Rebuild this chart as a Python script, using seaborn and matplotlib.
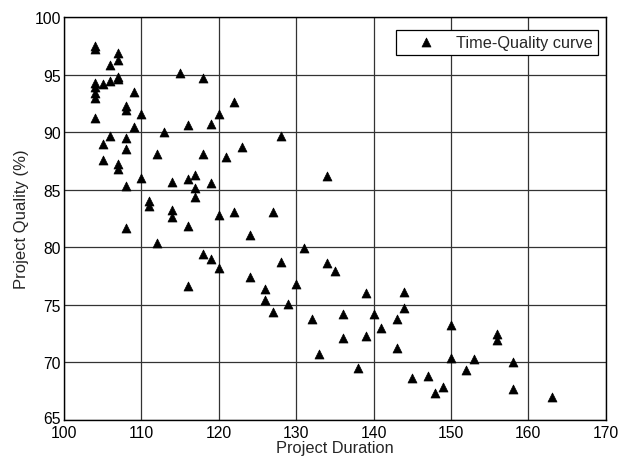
import matplotlib
matplotlib.use("Agg")
import matplotlib.pyplot as plt
import matplotlib.transforms as mtransforms
import seaborn as sns
import pandas as pd

# values
duration = [104, 104, 104, 104, 104, 104, 104,
            105, 105, 105, 106, 106, 106,
            107, 107, 107, 107, 107, 107,
            108, 108, 108, 108, 108, 108,
            109, 109, 110, 110, 111, 111, 112, 112, 113,
            114, 114, 114, 115, 116, 116, 116, 116,
            117, 117, 117, 118, 118, 118, 119, 119, 119,
            120, 120, 120, 121, 122, 122, 123, 124, 124,
            126, 126, 127, 127, 128, 128, 129, 130, 131,
            132, 133, 134, 134, 135, 136, 136, 138, 139, 139,
            140, 141, 143, 143, 144, 144, 145, 147, 148, 149,
            150, 150, 152, 153, 156, 156, 158, 158, 163]
quality = [97.5, 97.2, 94.3, 93.9, 93.4, 93.0, 91.2,
           94.2, 89.0, 87.6, 95.8, 94.4, 89.7,
           96.9, 96.3, 94.8, 94.6, 87.2, 86.8,
           92.3, 91.9, 89.5, 88.5, 85.3, 81.7,
           93.5, 90.4, 91.6, 86.0, 84.0, 83.6, 88.1, 80.4, 90.0,
           85.7, 83.2, 82.6, 95.1, 90.6, 85.9, 81.8, 76.6,
           86.3, 85.1, 84.4, 94.7, 88.1, 79.4, 90.7, 85.6, 79.0,
           91.6, 82.8, 78.2, 87.8, 92.6, 83.1, 88.7, 81.1, 77.4,
           76.4, 75.4, 83.1, 74.4, 89.7, 78.7, 75.1, 76.8, 79.95,
           73.8, 70.7, 86.2, 78.6, 77.9, 74.2, 72.1, 69.5, 76.0, 72.3,
           74.2, 73.0, 73.8, 71.25, 76.1, 74.7, 68.6, 68.8, 67.35, 67.9,
           73.25, 70.4, 69.3, 70.3, 72.5, 71.9, 70.0, 67.7, 67.0]

x_ticks = [100, 110, 120, 130, 140, 150, 160, 170]
y_ticks = [65, 70, 75, 80, 85, 90, 95, 100]

df = pd.DataFrame({"Project Duration": duration, "Project Quality (%)": quality})

sns.set_style("white")
plt.rcParams["font.family"] = ["Liberation Sans", "DejaVu Sans"]

fig = plt.figure(figsize=(6.2, 4.6), dpi=100)
ax = fig.add_axes([0.103, 0.085, 0.874, 0.876])

sns.scatterplot(data=df, x="Project Duration", y="Project Quality (%)",
                marker="^", color="black", edgecolor="black", linewidth=0.5,
                s=42, label="Time-Quality curve", ax=ax, zorder=3)

ax.set_xlim(100, 170)
ax.set_ylim(65, 100)
ax.set_xticks(x_ticks)
ax.set_yticks(y_ticks)
ax.grid(True, color="#333333", linewidth=0.9)
ax.set_axisbelow(True)
for sp in ax.spines.values():
    sp.set_color("black")
    sp.set_linewidth(1.0)
ax.tick_params(axis="y", length=0, pad=2, labelsize=11.3, colors="black")
ax.tick_params(axis="x", length=0, pad=4, labelsize=11.3, colors="black")
ax.set_xlabel("Project Duration", fontsize=11.8, labelpad=0)
ax.set_ylabel("Project Quality (%)", fontsize=12, labelpad=4)

# lift the bottom y label a little so it sits over the "100" like the original
lift = mtransforms.ScaledTranslation(0, 3 / 100, fig.dpi_scale_trans)
ylabels = ax.get_yticklabels()
ylabels[0].set_transform(ylabels[0].get_transform() + lift)

leg = ax.legend(loc="upper right", fontsize=11.7, frameon=True, fancybox=False,
                framealpha=1, edgecolor="black", borderpad=0.3,
                handlelength=3.1, handletextpad=0.3, borderaxespad=0,
                bbox_to_anchor=(0.985, 0.968))
leg.get_frame().set_linewidth(0.9)

fig.savefig("out.png", dpi=100)
